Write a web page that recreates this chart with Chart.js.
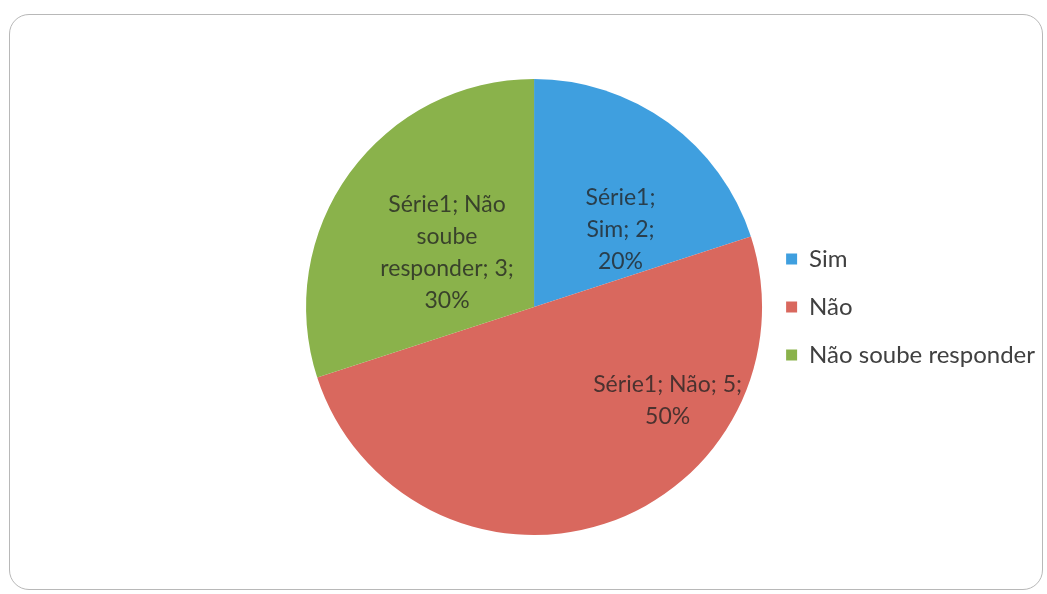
<!DOCTYPE html>
<html lang="pt">
<head>
<meta charset="utf-8">
<title>Série1</title>
<script src="https://cdn.jsdelivr.net/npm/chart.js@4.4.1/dist/chart.umd.min.js"></script>
<style>
  html, body { margin: 0; padding: 0; background: #ffffff; }
  #frame {
    position: absolute; left: 9px; top: 14px; width: 1034px; height: 576px;
    border: 1.5px solid #b8b8b8; border-radius: 20px; box-sizing: border-box;
  }
  #wrap { position: absolute; left: 0; top: 0; width: 1047px; height: 594px; }
</style>
</head>
<body>
<div id="frame"></div>
<div id="wrap"><canvas id="chart" width="1047" height="594"></canvas></div>
<script>
// Respostas
const seriesName = 'Série1';
const categories = ['Sim', 'Não', 'Não soube responder'];
const values = [2, 5, 3];
const sliceColors = ['#3f9fdf', '#d9685e', '#8ab24b'];

// Where each data label sits: angle (deg, clockwise from top) and fraction of the radius,
// plus the wrap width of the text block.
const labelPlacement = [
  { angle: 48, r: 0.51, wrap: 95 },
  { angle: 125, r: 0.715, wrap: 180 },
  { angle: -58, r: 0.45, wrap: 150 }
];

const FONT = 'Lato, "Open Sans", sans-serif';

function wrapWords(ctx, text, maxWidth) {
  const words = text.split(' ');
  const lines = [];
  let cur = '';
  for (const w of words) {
    const test = cur ? cur + ' ' + w : w;
    if (cur && ctx.measureText(test).width > maxWidth) {
      lines.push(cur);
      cur = w;
    } else {
      cur = test;
    }
  }
  if (cur) lines.push(cur);
  return lines;
}

const sliceLabels = {
  id: 'sliceLabels',
  afterDatasetsDraw(chart) {
    const ctx = chart.ctx;
    const meta = chart.getDatasetMeta(0);
    const data = chart.data.datasets[0].data;
    const total = data.reduce((a, b) => a + b, 0);
    ctx.save();
    ctx.font = '23px ' + FONT;
    ctx.fillStyle = 'rgba(35,35,35,0.78)';
    ctx.textAlign = 'center';
    ctx.textBaseline = 'middle';
    const lineH = 32;
    meta.data.forEach((arc, i) => {
      const p = labelPlacement[i];
      const pct = Math.round(data[i] / total * 100) + '%';
      const text = seriesName + '; ' + chart.data.labels[i] + '; ' + data[i] + '; ' + pct;
      const lines = wrapWords(ctx, text, p.wrap);
      const a = p.angle * Math.PI / 180;
      const cx = arc.x + Math.sin(a) * arc.outerRadius * p.r;
      const cy = arc.y - Math.cos(a) * arc.outerRadius * p.r;
      const y0 = cy - (lines.length - 1) * lineH / 2;
      lines.forEach((ln, k) => ctx.fillText(ln, cx, y0 + k * lineH));
    });
    ctx.restore();
  }
};

new Chart(document.getElementById('chart'), {
  type: 'pie',
  data: {
    labels: categories,
    datasets: [{
      label: seriesName,
      data: values,
      backgroundColor: sliceColors,
      borderWidth: 0
    }]
  },
  options: {
    responsive: false,
    animation: false,
    layout: { padding: { left: 306, right: 2, top: 79, bottom: 59 } },
    plugins: {
      tooltip: { enabled: false },
      legend: {
        position: 'right',
        align: 'center',
        labels: {
          boxWidth: 11,
          boxHeight: 11,
          padding: 24,
          color: '#404040',
          font: { family: FONT, size: 24 }
        }
      }
    }
  },
  plugins: [sliceLabels]
});
</script>
</body>
</html>
